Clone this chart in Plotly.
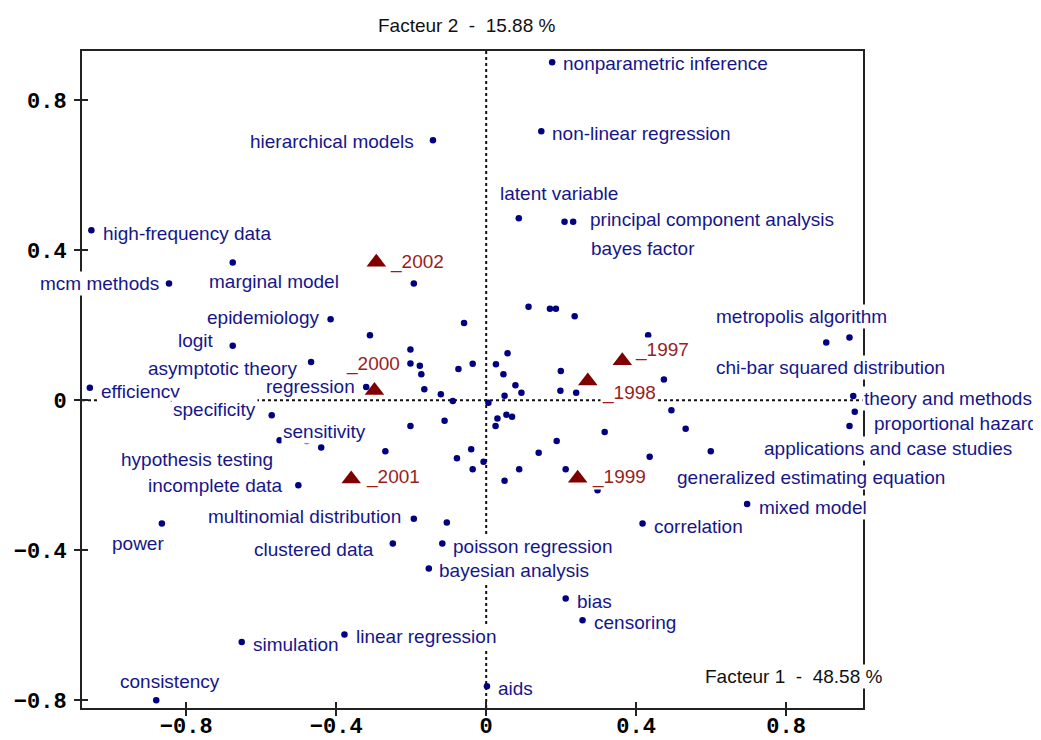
import plotly.graph_objects as go

# ---------------- data ----------------
terms = ["nonparametric inference", "non-linear regression", "latent variable",
         "principal component analysis", "bayes factor", "hierarchical models",
         "high-frequency data", "marginal model", "mcm methods", "epidemiology",
         "logit", "regression", "asymptotic theory", "efficiency", "specificity",
         "sensitivity", "hypothesis testing", "incomplete data",
         "multinomial distribution", "power", "clustered data", "poisson regression",
         "bayesian analysis", "simulation", "linear regression", "consistency",
         "aids", "bias", "censoring", "correlation", "mixed model",
         "generalized estimating equation", "applications and case studies",
         "proportional hazard", "theory and methods", "chi-bar squared distribution",
         "metropolis algorithm"]
term_x = [0.176, 0.147, 0.087, 0.209, 0.232, -0.142, -1.053, -0.676, -0.846, -0.415,
          -0.676, -0.320, -0.467, -1.057, -0.572, -0.440, -0.551, -0.501, -0.193, -0.865,
          -0.249, -0.117, -0.153, -0.652, -0.378, -0.880, 0.002, 0.212, 0.257, 0.417,
          0.696, 0.599, 0.969, 0.983, 0.979, 0.907, 0.969]
term_y = [0.901, 0.717, 0.485, 0.476, 0.476, 0.693, 0.453, 0.367, 0.311, 0.216,
          0.145, 0.035, 0.102, 0.033, -0.040, -0.126, -0.107, -0.227, -0.316, -0.329,
          -0.382, -0.382, -0.449, -0.645, -0.625, -0.800, -0.763, -0.529, -0.587, -0.329,
          -0.277, -0.136, -0.069, -0.031, 0.011, 0.154, 0.167]

# points whose labels are not displayed
other_x = [-0.193, -0.059, -0.310, -0.202, -0.202, -0.177, -0.173, -0.074, -0.036, -0.165,
           -0.121, -0.089, -0.202, -0.111, -0.269, -0.040, -0.078, -0.007, -0.036, -0.479,
           -0.105,
           0.113, 0.170, 0.186, 0.236, 0.432, 0.057, 0.026, 0.046, 0.199, 0.078,
           0.094, 0.198, 0.240, 0.049, 0.006, 0.474, 0.494, 0.054, 0.069, 0.030,
           0.025, 0.532, 0.316, 0.188, 0.140, 0.436, 0.088, 0.212, 0.049, 0.297]
other_y = [0.311, 0.206, 0.173, 0.135, 0.098, 0.092, 0.069, 0.083, 0.097, 0.029,
           0.016, -0.002, -0.069, -0.055, -0.136, -0.131, -0.155, -0.164, -0.184, -0.109,
           -0.326,
           0.249, 0.244, 0.244, 0.224, 0.173, 0.125, 0.096, 0.069, 0.078, 0.040,
           0.020, 0.025, 0.020, 0.012, -0.007, 0.055, -0.027, -0.039, -0.044, -0.049,
           -0.069, -0.076, -0.085, -0.109, -0.140, -0.151, -0.184, -0.184, -0.215, -0.240]

years = ["_1997", "_1998", "_1999", "_2000", "_2001", "_2002"]
year_x = [0.363, 0.271, 0.244, -0.298, -0.360, -0.293]
year_y = [0.105, 0.051, -0.208, 0.026, -0.210, 0.368]

tick_vals = [-0.8, -0.4, 0, 0.4, 0.8]
title_f1 = "Facteur 1 \u00a0-\u00a0 48.58 %"
title_f2 = "Facteur 2 \u00a0-\u00a0 15.88 %"

# ---------------- label placement (pixels relative to each point) ----------------
# (anchor side, dx to text edge, dy down to text centre)
term_place = [("left", 9.7, 1.3), ("left", 9.3, 2.3), ("left", -19.7, -25),
              ("left", 24.4, -1.7), ("left", 17.2, 26.6), ("right", -18.3, 1),
              ("left", 10.3, 3), ("left", -24.3, 19.4), ("right", -9.3, 0),
              ("right", -11, -1.3), ("right", -17.6, -5), ("right", -10.7, -0.7),
              ("right", -12.7, 6.6), ("left", 10.4, 4), ("right", -14.6, -5.7),
              ("left", -39, -16.3), ("right", -5.7, 19.3), ("right", -14, 0),
              ("right", -12, -2.6), ("right", 2.7, 20), ("right", -17.6, 6),
              ("left", 9.6, 3.4), ("left", 9, 2.4), ("left", 10, 2.3),
              ("left", 10.7, 2.4), ("left", -37.7, -18.3), ("left", 10.4, 2.3),
              ("left", 10.1, 3.4), ("left", 10, 2.7), ("left", 10.8, 3.4),
              ("left", 11.1, 3.3), ("left", -34.8, 26.7), ("left", -86.8, 22.6),
              ("left", 17.9, 11.6), ("left", 9.6, 2), ("left", -111.1, 25),
              ("left", -134.4, -20.6)]
year_place = [("left", 11.5, -10.5), ("left", 13.6, 12.3), ("left", 13.5, -1.3),
              ("left", -29, -26), ("left", 13.3, -2), ("left", 12.6, -0.3)]

NAVY = "#000080"
TXT = "#16168a"
DRED = "#800000"
LABEL_FONT = dict(family="Liberation Sans, Arial, sans-serif", size=19)
PAD = 1
X_RANGE = [-1.078, 1.005]
Y_RANGE = [-0.821, 0.931]

fig = go.Figure()
fig.add_trace(go.Scatter(x=other_x, y=other_y, mode="markers",
                         marker=dict(color=NAVY, size=6.5), hoverinfo="skip",
                         showlegend=False, cliponaxis=False))
fig.add_trace(go.Scatter(x=term_x, y=term_y, mode="markers", text=terms,
                         marker=dict(color=NAVY, size=6.5), showlegend=False,
                         cliponaxis=False))
fig.add_trace(go.Scatter(x=year_x, y=year_y, mode="markers", text=years,
                         marker=dict(color=DRED, symbol="triangle-up", size=17),
                         showlegend=False, cliponaxis=False))
# empty trace that carries the overlay axes (inner half of the crossing ticks)
fig.add_trace(go.Scatter(x=[], y=[], xaxis="x2", yaxis="y2", showlegend=False,
                         hoverinfo="skip"))

annotations = []


def add_labels(names, xs, ys, places, color):
    for name, xv, yv, (side, dx, dy) in zip(names, xs, ys, places):
        shift = dx - PAD if side == "left" else dx + PAD
        annotations.append(dict(x=xv, y=yv, xref="x", yref="y", text=name,
                                showarrow=False, xanchor=side, yanchor="middle",
                                xshift=shift, yshift=-dy, bgcolor="white",
                                borderpad=PAD, font=dict(LABEL_FONT, color=color)))


add_labels(terms, term_x, term_y, term_place, TXT)
add_labels(years, year_x, year_y, year_place, "#981e1e")

TITLE_FONT = dict(family="Liberation Sans, Arial, sans-serif", size=19, color="#111111")
annotations.append(dict(x=0, y=1, xref="x", yref="paper", text=title_f2,
                        showarrow=False, xanchor="left", yanchor="middle",
                        xshift=-110, yshift=26, font=TITLE_FONT))
annotations.append(dict(x=1, y=0, xref="paper", yref="paper", text=title_f1,
                        showarrow=False, xanchor="right", yanchor="middle",
                        xshift=22, yshift=31.5, bgcolor="white", borderpad=PAD,
                        font=TITLE_FONT))

shapes = [
    dict(type="line", xref="x", yref="paper", x0=0, x1=0, y0=0, y1=1, layer="below",
         line=dict(color="#111111", width=2, dash="3px,3px")),
    dict(type="line", xref="paper", yref="y", x0=0, x1=1, y0=0, y1=0, layer="below",
         line=dict(color="#111111", width=2, dash="3px,3px")),
]

TICK_FONT = dict(family="Liberation Mono, Courier New, monospace", size=22,
                 color="#000000", weight="bold")
axis_common = dict(showgrid=False, zeroline=False, showline=True, mirror=True,
                   linecolor="#222222", linewidth=2, ticks="outside", ticklen=6,
                   tickwidth=2, tickcolor="#222222", tickvals=tick_vals,
                   tickfont=TICK_FONT, fixedrange=True, automargin=False)
inner_ticks = dict(showgrid=False, zeroline=False, showline=False, ticks="inside",
                   ticklen=6, tickwidth=2, tickcolor="#222222", tickvals=tick_vals,
                   showticklabels=False, fixedrange=True, automargin=False)

# the page body has an 8px margin, so the figure is sized to fit the window
fig.update_layout(
    width=1033, height=732,
    margin=dict(l=74, r=178, t=43, b=32, autoexpand=False),
    paper_bgcolor="white", plot_bgcolor="white",
    xaxis=dict(range=X_RANGE, ticklabelstandoff=-9, **axis_common),
    yaxis=dict(range=Y_RANGE, ticklabelstandoff=3, **axis_common),
    xaxis2=dict(range=X_RANGE, overlaying="x", anchor="y2", side="bottom", **inner_ticks),
    yaxis2=dict(range=Y_RANGE, overlaying="y", anchor="x2", side="left", **inner_ticks),
    annotations=annotations, shapes=shapes, showlegend=False,
)

fig.write_html("out.html")
